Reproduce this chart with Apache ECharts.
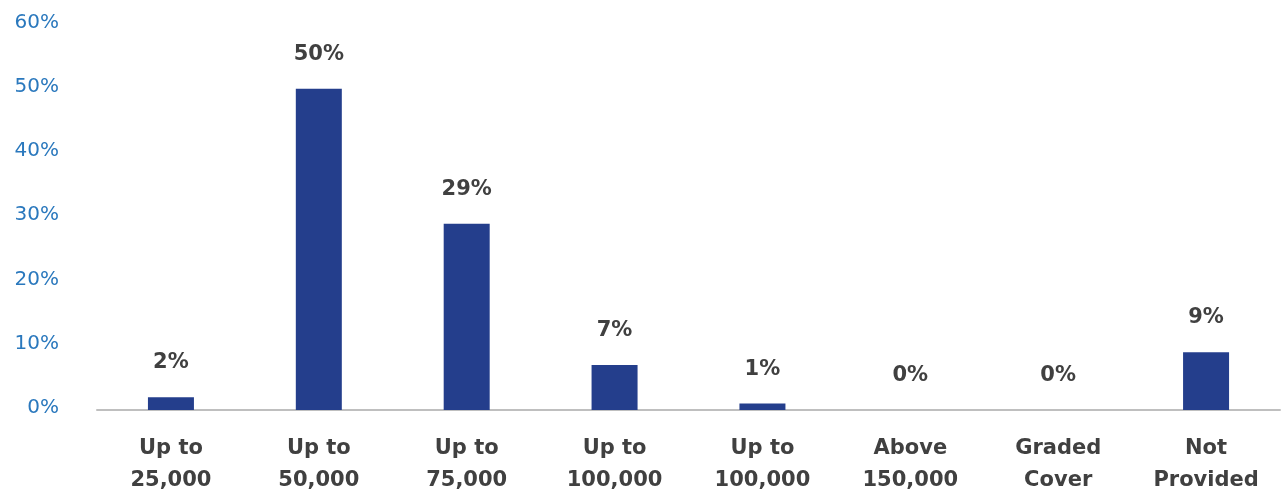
<!DOCTYPE html>
<html>
<head>
<meta charset="utf-8">
<script src="https://cdn.jsdelivr.net/npm/echarts@6/dist/echarts.min.js"></script>
<style>
  html, body { margin: 0; padding: 0; background: #ffffff; }
  #chart { width: 1284px; height: 497px; }
</style>
</head>
<body>
<div id="chart"></div>
<script>
// Sum insured bands and the share of policies in each
const categories = ['Up to\n25,000', 'Up to\n50,000', 'Up to\n75,000', 'Up to\n100,000', 'Up to\n100,000', 'Above\n150,000', 'Graded\nCover', 'Not\nProvided'];
const shares = [2, 50, 29, 7, 1, 0, 0, 9];
const yTicks = { min: 0, max: 60, interval: 10 };

const FONT = '"DejaVu Sans", "Noto Sans", sans-serif';

const chart = echarts.init(document.getElementById('chart'));
chart.setOption({
  animation: false,
  grid: { left: 97, right: 4, top: 24.5, bottom: 85, containLabel: false },
  xAxis: {
    type: 'category',
    data: categories,
    axisLine: { lineStyle: { color: '#bfbfbf', width: 2 } },
    axisTick: { show: false },
    axisLabel: {
      color: '#404040',
      fontFamily: FONT,
      fontWeight: 'bold',
      fontSize: 21,
      lineHeight: 32,
      margin: 23,
      interval: 0
    }
  },
  yAxis: {
    type: 'value',
    min: yTicks.min,
    max: yTicks.max,
    interval: yTicks.interval,
    splitLine: { show: false },
    axisLine: { show: false },
    axisTick: { show: false },
    axisLabel: {
      formatter: '{value}%',
      color: '#2a78bd',
      fontFamily: FONT,
      fontSize: 20,
      margin: 38,
      verticalAlign: 'bottom',
      padding: [0, 0, -8, 0]
    }
  },
  series: [{
    type: 'bar',
    data: shares,
    barWidth: 46,
    itemStyle: { color: '#243e8c' },
    label: {
      show: true,
      position: 'top',
      distance: 24,
      formatter: '{c}%',
      color: '#404040',
      fontFamily: FONT,
      fontWeight: 'bold',
      fontSize: 21
    }
  }]
});
</script>
</body>
</html>
